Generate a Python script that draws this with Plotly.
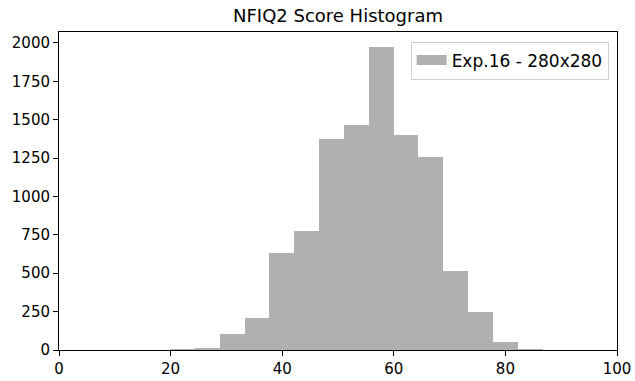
import plotly.graph_objects as go

bin_edges = [19.9, 24.35, 28.8, 33.25, 37.7, 42.15, 46.6, 51.05, 55.5, 59.95,
             64.4, 68.85, 73.3, 77.75, 82.2, 86.65]
counts = [3, 8, 105, 209, 635, 778, 1377, 1464, 1972, 1397, 1254, 516, 245, 52, 6]
series_name = "Exp.16 - 280x280"
x_ticks = [0, 20, 40, 60, 80, 100]
y_ticks = [0, 250, 500, 750, 1000, 1250, 1500, 1750, 2000]

bar_color = "#b0b0b0"
centers = [(bin_edges[i] + bin_edges[i + 1]) / 2 for i in range(len(counts))]
widths = [bin_edges[i + 1] - bin_edges[i] for i in range(len(counts))]

fig = go.Figure()
fig.add_trace(go.Bar(x=centers, y=counts, width=widths, name=series_name,
                     marker=dict(color=bar_color, line=dict(width=0)),
                     showlegend=False))
# legend proxy: wide rectangle patch like matplotlib
fig.add_trace(go.Scatter(x=[None], y=[None], mode="lines", name=series_name,
                         line=dict(color=bar_color, width=14), showlegend=True))

axis_common = dict(showgrid=False, zeroline=False, showline=True, linecolor="black",
                   linewidth=1, mirror=True, ticks="outside", ticklen=5, tickwidth=1,
                   tickcolor="black", automargin=False,
                   tickfont=dict(family="DejaVu Sans", size=15, color="black"))

fig.update_layout(
    width=635, height=381,
    margin=dict(l=59, r=18, t=32, b=31),
    plot_bgcolor="white", paper_bgcolor="white",
    bargap=0,
    title=dict(text="NFIQ2 Score Histogram", x=0.5, xref="paper", xanchor="center",
               y=0.958, yanchor="middle",
               font=dict(family="DejaVu Sans", size=18, color="black")),
    xaxis=dict(range=[0, 100], tickvals=x_ticks, **axis_common),
    yaxis=dict(range=[0, 2071], tickvals=y_ticks, **axis_common),
    legend=dict(x=0.985, y=0.97, xanchor="right", yanchor="top",
                bgcolor="white", bordercolor="#d0d0d0", borderwidth=1,
                font=dict(family="DejaVu Sans", size=17, color="black")),
)

fig.write_html("out.html", config={"displayModeBar": False},
               post_script="document.body.style.margin='0';document.body.style.padding='0';")
